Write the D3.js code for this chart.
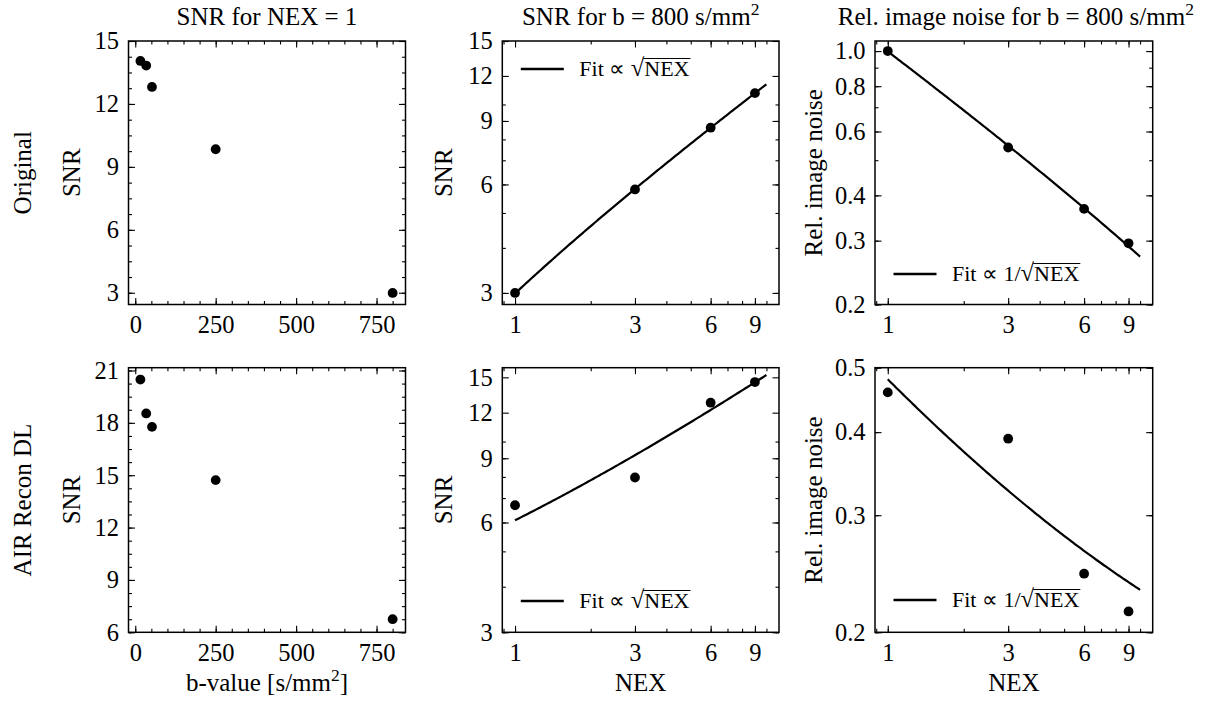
<!DOCTYPE html>
<html>
<head>
<meta charset="utf-8">
<script src="https://cdn.jsdelivr.net/npm/d3@7"></script>
<style>
  html, body { margin: 0; padding: 0; background: #fff; }
  svg { display: block; }
</style>
</head>
<body>
<svg id="chart" width="1205" height="701"></svg>
<script>
// ---- data ----
const bValues = [16, 34, 52, 250, 800];
const snrOriginalByB = [14.05, 13.83, 12.81, 9.84, 2.99];
const snrAirByB = [20.48, 18.54, 17.77, 14.72, 6.75];

const nexValues = [1, 3, 6, 9];
const snrOriginalByNex = [3.0, 5.81, 8.62, 10.75];
const noiseOriginalByNex = [1.0, 0.542, 0.367, 0.295];
const snrAirByNex = [6.69, 7.97, 12.78, 14.56];
const noiseAirByNex = [0.459, 0.391, 0.245, 0.215];

const fitNexRange = [1, 10];

const rowLabels = ["Original", "AIR Recon DL"];
const bTicks = [0, 250, 500, 750];
const nexTicks = [1, 3, 6, 9];
const snrTicksTop = [3, 6, 9, 12, 15];
const snrTicksBottomLeft = [6, 9, 12, 15, 18, 21];
const snrTicksLog = [3, 6, 9, 12, 15];
const noiseTicksTop = [0.2, 0.3, 0.4, 0.6, 0.8, 1.0];
const noiseTicksBottom = [0.2, 0.3, 0.4, 0.5];

// ---- layout ----
const FONT = '"Liberation Serif", "Times New Roman", Times, serif';
const TICK_FS = 24.5, LABEL_FS = 25, LEGEND_FS = 22;
const cols = [[128.5, 405.5], [502.3, 779], [875, 1152.7]];
const rows = [[41, 304.5], [367.7, 632.3]];

const svg = d3.select("#chart");

// least-squares fit of y = a*g(x) + b
function linFit(xs, ys, g) {
  const u = xs.map(g);
  const mu = d3.mean(u), my = d3.mean(ys);
  let sxy = 0, sxx = 0;
  u.forEach((v, i) => { sxy += (v - mu) * (ys[i] - my); sxx += (v - mu) * (v - mu); });
  const a = sxy / sxx;
  return { a, b: my - a * mu, g };
}

// log minor ticks: 1..9 x 10^k inside the domain
function logMinor(domain) {
  const out = [];
  for (let k = -2; k <= 2; k++) {
    for (let s = 1; s <= 9; s++) {
      const v = s * Math.pow(10, k);
      if (v >= domain[0] * 0.9999 && v <= domain[1] * 1.0001) out.push(v);
    }
  }
  return out;
}

function linMinor(domain, step) {
  const out = [];
  const start = Math.ceil(domain[0] / step - 1e-9) * step;
  for (let v = start; v <= domain[1] + 1e-9; v += step) out.push(+v.toFixed(6));
  return out;
}

function drawPanel(spec) {
  const [x0, x1] = cols[spec.col];
  const [y0, y1] = rows[spec.row];
  const g = svg.append("g");

  const x = (spec.xLog ? d3.scaleLog() : d3.scaleLinear()).domain(spec.xDomain).range([x0, x1]);
  const y = (spec.yLog ? d3.scaleLog() : d3.scaleLinear()).domain(spec.yDomain).range([y1, y0]);

  const inX = v => v >= spec.xDomain[0] - 1e-9 && v <= spec.xDomain[1] + 1e-9;
  const inY = v => v >= spec.yDomain[0] - 1e-9 && v <= spec.yDomain[1] + 1e-9;
  const xMajor = spec.xMajor.filter(inX), yMajor = spec.yMajor.filter(inY);
  const xMinor = spec.xMinor.filter(inX), yMinor = spec.yMinor.filter(inY);

  const MAJ = 6.5, MIN = 3.5;
  const tickStyle = sel => {
    sel.attr("font-family", FONT).attr("font-size", TICK_FS);
    sel.select(".domain").remove();
    sel.selectAll("line").attr("stroke", "#000").attr("stroke-width", 1.1);
    sel.selectAll("text").attr("fill", "#000");
  };

  // minor ticks on all four sides
  g.append("g").attr("transform", `translate(0,${y1})`)
    .call(d3.axisBottom(x).tickValues(xMinor).tickSize(-MIN).tickFormat("")).call(tickStyle);
  g.append("g").attr("transform", `translate(0,${y0})`)
    .call(d3.axisTop(x).tickValues(xMinor).tickSize(-MIN).tickFormat("")).call(tickStyle);
  g.append("g").attr("transform", `translate(${x0},0)`)
    .call(d3.axisLeft(y).tickValues(yMinor).tickSize(-MIN).tickFormat("")).call(tickStyle);
  g.append("g").attr("transform", `translate(${x1},0)`)
    .call(d3.axisRight(y).tickValues(yMinor).tickSize(-MIN).tickFormat("")).call(tickStyle);

  // major ticks with labels on bottom/left, mirrored on top/right
  g.append("g").attr("transform", `translate(0,${y1})`)
    .call(d3.axisBottom(x).tickValues(xMajor).tickSize(-MAJ).tickPadding(11).tickFormat(spec.xFmt))
    .call(tickStyle);
  g.append("g").attr("transform", `translate(0,${y0})`)
    .call(d3.axisTop(x).tickValues(xMajor).tickSize(-MAJ).tickFormat("")).call(tickStyle);
  g.append("g").attr("transform", `translate(${x0},0)`)
    .call(d3.axisLeft(y).tickValues(yMajor).tickSize(-MAJ).tickPadding(9.5).tickFormat(spec.yFmt))
    .call(tickStyle);
  g.append("g").attr("transform", `translate(${x1},0)`)
    .call(d3.axisRight(y).tickValues(yMajor).tickSize(-MAJ).tickFormat("")).call(tickStyle);

  // frame
  g.append("rect").attr("x", x0).attr("y", y0).attr("width", x1 - x0).attr("height", y1 - y0)
    .attr("fill", "none").attr("stroke", "#000").attr("stroke-width", 1.5);

  // fit curve
  if (spec.fit) {
    const f = spec.fit;
    const n = 120;
    const pts = d3.range(n + 1).map(i => {
      const t = fitNexRange[0] * Math.pow(fitNexRange[1] / fitNexRange[0], i / n);
      return [t, f.a * f.g(t) + f.b];
    });
    g.append("path").datum(pts)
      .attr("d", d3.line().x(d => x(d[0])).y(d => y(d[1])))
      .attr("fill", "none").attr("stroke", "#000").attr("stroke-width", 2.2);
  }

  // data points
  g.selectAll("circle.pt").data(spec.xs.map((v, i) => [v, spec.ys[i]]))
    .join("circle").attr("class", "pt")
    .attr("cx", d => x(d[0])).attr("cy", d => y(d[1])).attr("r", 4.9).attr("fill", "#000");

  // legend
  if (spec.legend) {
    const ly = spec.legend.y;
    g.append("line").attr("x1", x0 + 18.5).attr("x2", x0 + 61.5).attr("y1", ly).attr("y2", ly)
      .attr("stroke", "#000").attr("stroke-width", 2.4);
    const tx = x0 + 77;
    const base = ly + 7;
    const lt = g.append("text").attr("x", tx).attr("y", base)
      .attr("font-family", FONT).attr("font-size", LEGEND_FS).attr("fill", "#000");
    lt.append("tspan").text(spec.legend.prefix);
    lt.append("tspan").attr("font-size", LEGEND_FS * 1.12).text("√");
    const nexSpan = lt.append("tspan").text("NEX");
    const total = lt.node().getComputedTextLength();
    const nexLen = nexSpan.node().getComputedTextLength();
    const nexStart = tx + total - nexLen;
    g.append("line").attr("x1", nexStart - 1).attr("x2", tx + total + 1)
      .attr("y1", base - 17.5).attr("y2", base - 17.5)
      .attr("stroke", "#000").attr("stroke-width", 1.1);
  }

  // y label
  if (spec.yLabel) {
    g.append("text").attr("transform", `translate(${spec.yLabel.x},${(y0 + y1) / 2}) rotate(-90)`)
      .attr("text-anchor", "middle").attr("font-family", FONT).attr("font-size", LABEL_FS)
      .text(spec.yLabel.text);
  }
  return { x, y };
}

const fmtInt = d => String(d);
const fmtOne = d => d.toFixed(1);

const fitSqrt = v => Math.sqrt(v);
const fitInv = v => 1 / Math.sqrt(v);

// ---- row 1: Original ----
drawPanel({
  col: 0, row: 0, xDomain: [-21, 840], yDomain: [2.44, 15],
  xMajor: bTicks, xMinor: linMinor([-21, 840], 50), xFmt: fmtInt,
  yMajor: snrTicksTop, yMinor: linMinor([2.44, 15], 0.75), yFmt: fmtInt,
  xs: bValues, ys: snrOriginalByB, yLabel: { x: 80, text: "SNR" }
});
drawPanel({
  col: 1, row: 0, xLog: true, yLog: true, xDomain: [0.89, 11.22], yDomain: [2.786, 15],
  xMajor: nexTicks, xMinor: logMinor([0.89, 11.22]), xFmt: fmtInt,
  yMajor: snrTicksLog, yMinor: logMinor([2.786, 15]), yFmt: fmtInt,
  xs: nexValues, ys: snrOriginalByNex,
  fit: linFit(nexValues, snrOriginalByNex, fitSqrt),
  legend: { y: 69, prefix: "Fit ∝ " },
  yLabel: { x: 451.7, text: "SNR" }
});
drawPanel({
  col: 2, row: 0, xLog: true, yLog: true, xDomain: [0.89, 11.22], yDomain: [0.2, 1.066],
  xMajor: nexTicks, xMinor: logMinor([0.89, 11.22]), xFmt: fmtInt,
  yMajor: noiseTicksTop, yMinor: logMinor([0.2, 1.066]), yFmt: fmtOne,
  xs: nexValues, ys: noiseOriginalByNex,
  fit: linFit(nexValues, noiseOriginalByNex, fitInv),
  legend: { y: 274, prefix: "Fit ∝ 1/" },
  yLabel: { x: 821.7, text: "Rel. image noise" }
});

// ---- row 2: AIR Recon DL ----
drawPanel({
  col: 0, row: 1, xDomain: [-21, 840], yDomain: [6, 21.16],
  xMajor: bTicks, xMinor: linMinor([-21, 840], 50), xFmt: fmtInt,
  yMajor: snrTicksBottomLeft, yMinor: linMinor([6, 21.16], 0.75), yFmt: fmtInt,
  xs: bValues, ys: snrAirByB, yLabel: { x: 80, text: "SNR" }
});
drawPanel({
  col: 1, row: 1, xLog: true, yLog: true, xDomain: [0.89, 11.22], yDomain: [3, 15.94],
  xMajor: nexTicks, xMinor: logMinor([0.89, 11.22]), xFmt: fmtInt,
  yMajor: snrTicksLog, yMinor: logMinor([3, 15.94]), yFmt: fmtInt,
  xs: nexValues, ys: snrAirByNex,
  fit: linFit(nexValues, snrAirByNex, fitSqrt),
  legend: { y: 601, prefix: "Fit ∝ " },
  yLabel: { x: 451.7, text: "SNR" }
});
drawPanel({
  col: 2, row: 1, xLog: true, yLog: true, xDomain: [0.89, 11.22], yDomain: [0.2, 0.5],
  xMajor: nexTicks, xMinor: logMinor([0.89, 11.22]), xFmt: fmtInt,
  yMajor: noiseTicksBottom, yMinor: logMinor([0.2, 0.5]), yFmt: fmtOne,
  xs: nexValues, ys: noiseAirByNex,
  fit: linFit(nexValues, noiseAirByNex, fitInv),
  legend: { y: 600, prefix: "Fit ∝ 1/" },
  yLabel: { x: 821.7, text: "Rel. image noise" }
});

// ---- titles, row labels, x labels ----
function textWithSup(x, y, main, sup, tail) {
  const t = svg.append("text").attr("x", x).attr("y", y).attr("text-anchor", "middle")
    .attr("font-family", FONT).attr("font-size", LABEL_FS).attr("fill", "#000");
  t.append("tspan").text(main);
  if (sup) {
    t.append("tspan").attr("font-size", 17.5).attr("dy", -10).text(sup);
    if (tail) t.append("tspan").attr("dy", 10).text(tail);
  }
  return t;
}
const colCenter = c => (cols[c][0] + cols[c][1]) / 2;
const rowCenter = r => (rows[r][0] + rows[r][1]) / 2;

textWithSup(colCenter(0), 25, "SNR for NEX = 1");
textWithSup(colCenter(1), 25, "SNR for b = 800 s/mm", "2");
textWithSup(colCenter(2) + 2, 25, "Rel. image noise for b = 800 s/mm", "2");

textWithSup(colCenter(0), 691, "b-value [s/mm", "2", "]");
textWithSup(colCenter(1), 691, "NEX");
textWithSup(colCenter(2), 691, "NEX");

rowLabels.forEach((lab, i) => {
  svg.append("text").attr("transform", `translate(31,${rowCenter(i)}) rotate(-90)`)
    .attr("text-anchor", "middle").attr("font-family", FONT).attr("font-size", LABEL_FS)
    .attr("fill", "#000").text(lab);
});
</script>
</body>
</html>
